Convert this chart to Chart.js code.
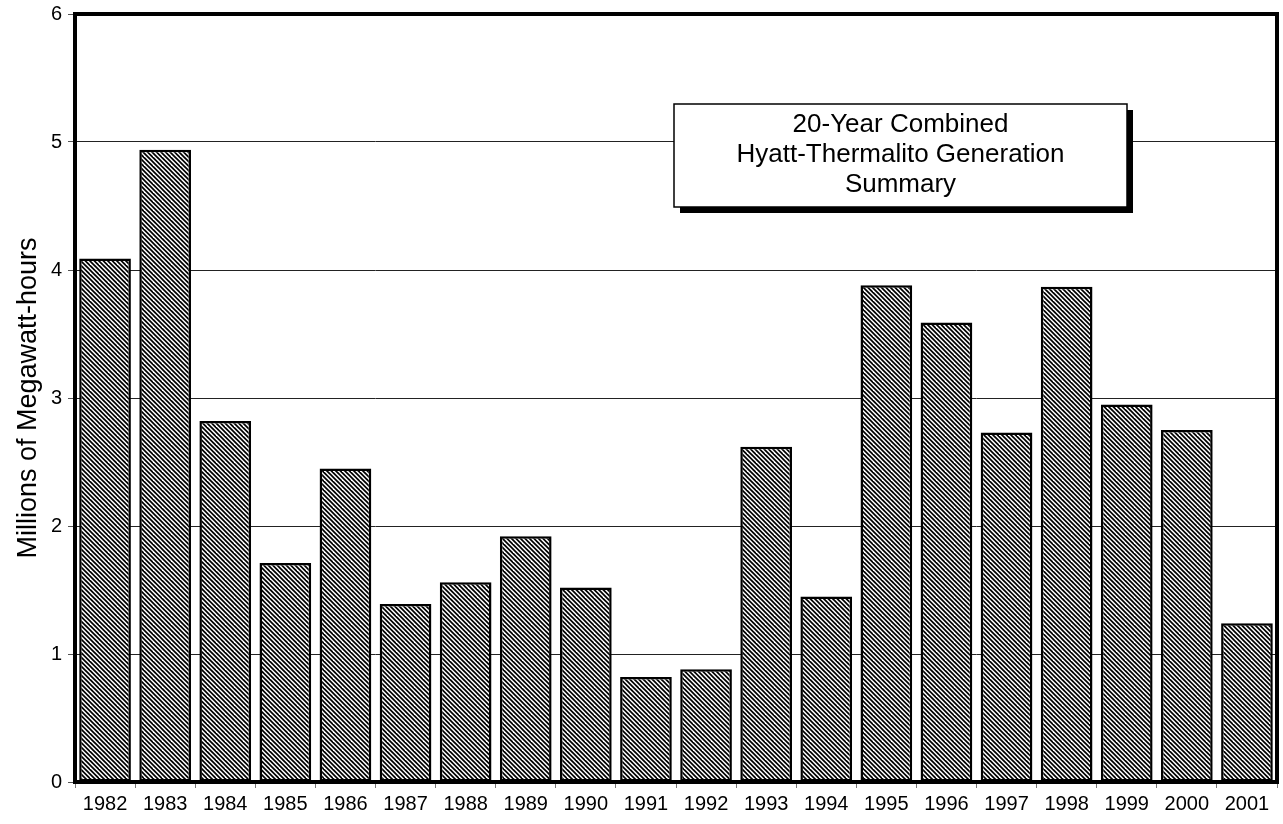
<!DOCTYPE html>
<html>
<head>
<meta charset="utf-8">
<script src="https://cdn.jsdelivr.net/npm/chart.js@4.4.1/dist/chart.umd.min.js"></script>
<style>
  html, body { margin: 0; padding: 0; background: #ffffff; }
  #wrap { width: 1283px; height: 824px; position: relative; }
</style>
</head>
<body>
<div id="wrap"><canvas id="chart" width="1283" height="824"></canvas></div>
<script>
// Annual combined generation, millions of MWh
const years = ['1982','1983','1984','1985','1986','1987','1988','1989','1990','1991',
               '1992','1993','1994','1995','1996','1997','1998','1999','2000','2001'];
const generation = [4.09, 4.94, 2.82, 1.71, 2.45, 1.39, 1.56, 1.92, 1.52, 0.82,
                    0.88, 2.62, 1.45, 3.88, 3.59, 2.73, 3.87, 2.95, 2.75, 1.24];
const yTicks = [0, 1, 2, 3, 4, 5, 6];
const yTitle = 'Millions of Megawatt-hours';
const boxLines = ['20-Year Combined', 'Hyatt-Thermalito Generation', 'Summary'];

const FONT = '"Liberation Sans", Arial, sans-serif';

// Diagonal hatch fill for the bars (stripes every 4.5 px)
function makeHatch() {
  const p = 9, step = 4.5;
  const c = document.createElement('canvas');
  c.width = p; c.height = p;
  const g = c.getContext('2d');
  g.fillStyle = '#ffffff';
  g.fillRect(0, 0, p, p);
  g.strokeStyle = '#000000';
  g.lineWidth = 1.7;
  for (let k = -3; k <= 3; k++) {
    g.beginPath();
    g.moveTo(-3, -3 + k * step);
    g.lineTo(p + 3, p + 3 + k * step);
    g.stroke();
  }
  return g.createPattern(c, 'repeat');
}

// Heavy frame around the plot area plus the caption box with drop shadow
const framePlugin = {
  id: 'frameAndCaption',
  afterDraw(chart) {
    const { ctx, chartArea: a } = chart;
    ctx.save();
    ctx.strokeStyle = '#000000';
    ctx.lineWidth = 4;
    ctx.strokeRect(a.left, a.top, a.right - a.left, a.bottom - a.top);

    const bx = 674, by = 104, bw = 453, bh = 103, sh = 6;
    ctx.fillStyle = '#000000';
    ctx.fillRect(bx + sh, by + sh, bw, bh);
    ctx.fillStyle = '#ffffff';
    ctx.fillRect(bx, by, bw, bh);
    ctx.lineWidth = 1.5;
    ctx.strokeRect(bx, by, bw, bh);

    ctx.fillStyle = '#000000';
    ctx.font = '26px ' + FONT;
    ctx.textAlign = 'center';
    ctx.textBaseline = 'alphabetic';
    const baselines = [132, 162, 192];
    boxLines.forEach((t, i) => ctx.fillText(t, bx + bw / 2, baselines[i]));
    ctx.restore();
  }
};

new Chart(document.getElementById('chart'), {
  type: 'bar',
  data: {
    labels: years,
    datasets: [{
      data: generation,
      backgroundColor: makeHatch(),
      borderColor: '#000000',
      borderWidth: 2.5,
      borderSkipped: false,
      barPercentage: 0.86,
      categoryPercentage: 1.0
    }]
  },
  options: {
    responsive: false,
    animation: false,
    devicePixelRatio: 1,
    layout: { padding: { top: 14, right: 6, left: 0, bottom: 0 } },
    plugins: { legend: { display: false }, tooltip: { enabled: false } },
    scales: {
      x: {
        offset: true,
        grid: {
          offset: true,
          drawOnChartArea: false,
          drawTicks: true,
          tickLength: 6,
          color: '#777777',
          lineWidth: 1
        },
        border: { display: false },
        ticks: {
          color: '#000000',
          font: { family: FONT, size: 20 },
          padding: 4,
          maxRotation: 0,
          autoSkip: false
        },
        afterFit(s) { s.height = 42; }
      },
      y: {
        min: 0,
        max: 6,
        afterBuildTicks(s) { s.ticks = yTicks.map(v => ({ value: v })); },
        grid: {
          color: '#222222',
          lineWidth: 1,
          drawTicks: true,
          tickLength: 7,
          tickColor: '#555555'
        },
        border: { display: false },
        ticks: {
          color: '#000000',
          font: { family: FONT, size: 20, lineHeight: 1 },
          padding: 6
        },
        title: {
          display: true,
          text: yTitle,
          color: '#000000',
          font: { family: FONT, size: 27 },
          padding: { top: 12, bottom: 0 }
        },
        afterFit(s) {
          s.width = 75;
          s.paddingTop = 0;
          s.paddingBottom = 0;
        }
      }
    }
  },
  plugins: [framePlugin]
});
</script>
</body>
</html>
